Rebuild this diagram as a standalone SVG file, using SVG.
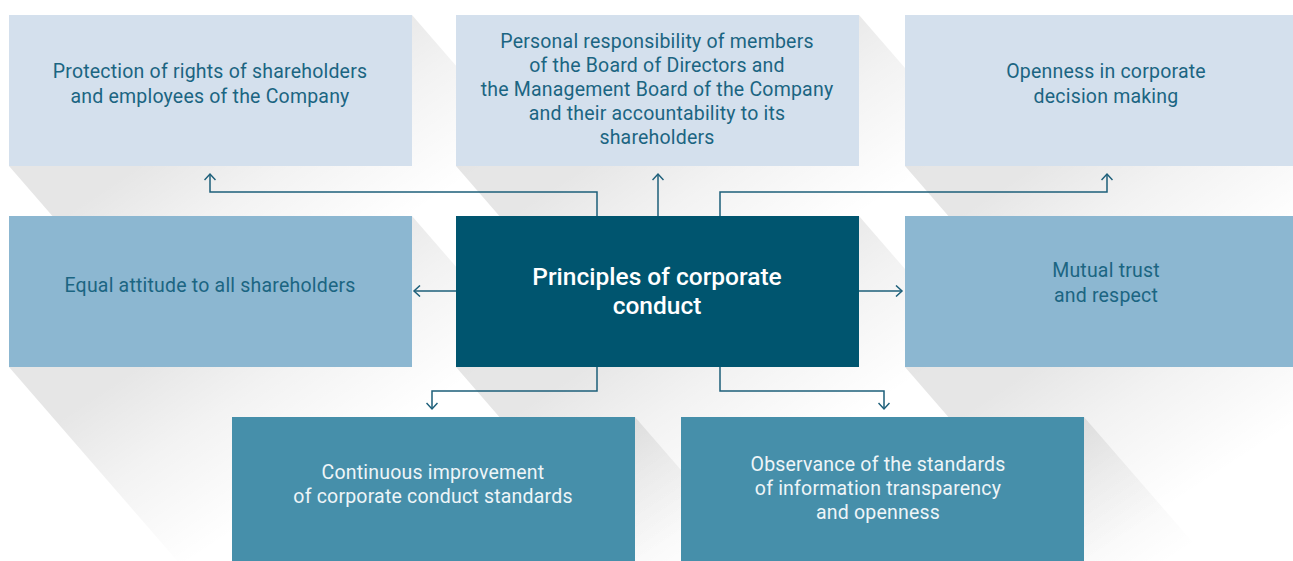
<svg xmlns="http://www.w3.org/2000/svg" width="1293" height="561" viewBox="0 0 1293 561">
<defs>
<linearGradient id="sh" x1="0" y1="0" x2="1" y2="1">
<stop offset="0.28" stop-color="#000" stop-opacity="0.1"/>
<stop offset="0.4" stop-color="#000" stop-opacity="0.05"/>
<stop offset="0.56" stop-color="#000" stop-opacity="0"/>
</linearGradient>
<marker id="ah" viewBox="0 0 12 12" refX="10" refY="6" markerWidth="12" markerHeight="12" markerUnits="userSpaceOnUse" orient="auto">
<path d="M4,0.5 L10,6 L4,11.5" fill="none" stroke="#1d5f7a" stroke-width="1.5"/>
</marker>
<style>
.shadow{fill:url(#sh)}
.light{fill:#d4e0ed}
.mid{fill:#8cb7d1}
.dark{fill:#00556f}
.deep{fill:#468faa}
text{font-family:Roboto,"Liberation Sans",sans-serif;font-size:19.5px;letter-spacing:0.2px;text-anchor:middle}
.td{fill:#1b6582}
.tw{fill:#eef5f8}
.title{fill:#ffffff;font-size:24.5px;font-weight:500;letter-spacing:0}
.conn{fill:none;stroke:#1d5f7a;stroke-width:1.5;marker-end:url(#ah)}
</style>
</defs>
<rect width="1293" height="561" fill="#ffffff"/>
<g id="shadows">
<polygon class="shadow" points="9,15 412,15 642,280 642,431 239,431 9,166"/>
<polygon class="shadow" points="456,15 859,15 1089,280 1089,431 686,431 456,166"/>
<polygon class="shadow" points="905,15 1308,15 1538,280 1538,431 1135,431 905,166"/>
<polygon class="shadow" points="9,216 412,216 642,481 642,632 239,632 9,367"/>
<polygon class="shadow" points="456,216 859,216 1089,481 1089,632 686,632 456,367"/>
<polygon class="shadow" points="905,216 1308,216 1538,481 1538,632 1135,632 905,367"/>
<polygon class="shadow" points="232,417 635,417 865,682 865,833 462,833 232,568"/>
<polygon class="shadow" points="681,417 1084,417 1314,682 1314,833 911,833 681,568"/>
</g>
<g id="connectors">
<path class="conn" d="M597,216 V192 H210 V174"/>
<path class="conn" d="M658,216 V174"/>
<path class="conn" d="M720,216 V192 H1107 V174"/>
<path class="conn" d="M456,291 H414"/>
<path class="conn" d="M859,291 H902"/>
<path class="conn" d="M597,367 V391 H432 V409"/>
<path class="conn" d="M720,367 V391 H884 V409"/>
</g>
<g id="n-protection">
<rect class="light" x="9" y="15" width="403" height="151"/>
<text class="td" x="210" y="78">Protection of rights of shareholders</text>
<text class="td" x="210" y="103">and employees of the Company</text>
</g>
<g id="n-responsibility">
<rect class="light" x="456" y="15" width="403" height="151"/>
<text class="td" x="657" y="48">Personal responsibility of members</text>
<text class="td" x="657" y="72">of the Board of Directors and</text>
<text class="td" x="657" y="96">the Management Board of the Company</text>
<text class="td" x="657" y="120">and their accountability to its</text>
<text class="td" x="657" y="144">shareholders</text>
</g>
<g id="n-openness">
<rect class="light" x="905" y="15" width="403" height="151"/>
<text class="td" x="1106" y="78">Openness in corporate</text>
<text class="td" x="1106" y="103">decision making</text>
</g>
<g id="n-equal">
<rect class="mid" x="9" y="216" width="403" height="151"/>
<text class="td" x="210" y="292">Equal attitude to all shareholders</text>
</g>
<g id="n-center">
<rect class="dark" x="456" y="216" width="403" height="151"/>
<text class="title" x="657" y="285">Principles of corporate</text>
<text class="title" x="657" y="314">conduct</text>
</g>
<g id="n-trust">
<rect class="mid" x="905" y="216" width="403" height="151"/>
<text class="td" x="1106" y="277">Mutual trust</text>
<text class="td" x="1106" y="302">and respect</text>
</g>
<g id="n-improvement">
<rect class="deep" x="232" y="417" width="403" height="151"/>
<text class="tw" x="433" y="479">Continuous improvement</text>
<text class="tw" x="433" y="503">of corporate conduct standards</text>
</g>
<g id="n-observance">
<rect class="deep" x="681" y="417" width="403" height="151"/>
<text class="tw" x="878" y="471">Observance of the standards</text>
<text class="tw" x="878" y="495">of information transparency</text>
<text class="tw" x="878" y="519">and openness</text>
</g>
</svg>
